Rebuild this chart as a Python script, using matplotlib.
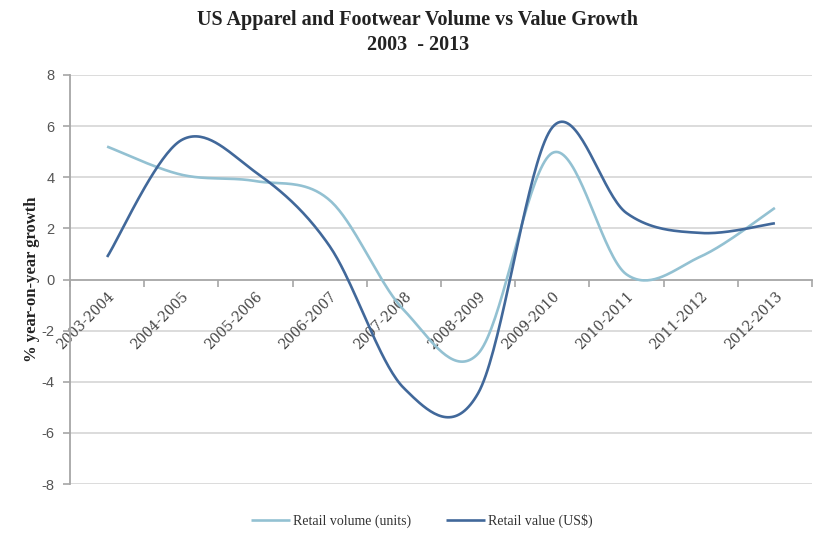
import matplotlib
matplotlib.use("Agg")
import matplotlib.pyplot as plt
import numpy as np

periods = ["2003-2004", "2004-2005", "2005-2006", "2006-2007", "2007-2008",
           "2008-2009", "2009-2010", "2010-2011", "2011-2012", "2012-2013"]
volume = [5.2, 4.1, 3.85, 3.1, -1.2, -2.9, 4.95, 0.2, 0.9, 2.8]
value = [0.88, 5.45, 4.2, 1.3, -4.25, -4.45, 5.95, 2.6, 1.82, 2.2]
yticks = [-8, -6, -4, -2, 0, 2, 4, 6, 8]

vol_color = "#93c1d2"
val_color = "#41689a"
grid_color = "#d6d6d6"
axis_color = "#a6a6a6"


def smooth(y, n=40):
    # excel-like smoothed line: catmull-rom through the points, as cubic bezier
    y = np.asarray(y, dtype=float)
    x = np.arange(len(y), dtype=float)
    pts = np.column_stack([x, y])
    xs, ys = [], []
    t = np.linspace(0, 1, n)[:, None]
    for i in range(len(pts) - 1):
        p0 = pts[i - 1] if i > 0 else pts[i]
        p1 = pts[i]
        p2 = pts[i + 1]
        p3 = pts[i + 2] if i + 2 < len(pts) else pts[i + 1]
        c1 = p1 + (p2 - p0) / 6.0
        c2 = p2 - (p3 - p1) / 6.0
        b = ((1 - t) ** 3) * p1 + 3 * ((1 - t) ** 2) * t * c1 + 3 * (1 - t) * t ** 2 * c2 + t ** 3 * p2
        xs.extend(b[:, 0])
        ys.extend(b[:, 1])
    return np.array(xs), np.array(ys)


fig = plt.figure(figsize=(8.19, 5.41), dpi=100)
ax = fig.add_axes([70 / 819, 1 - 484 / 541, 742 / 819, 409 / 541])

ax.set_ylim(-8, 8)
ax.set_xlim(-0.5, len(periods) - 0.5)
ax.set_yticks(yticks)
ax.set_yticklabels([str(v) for v in yticks], fontsize=10.5, color="#555555",
                   family="Liberation Sans")
for v in yticks:
    if v != 0:
        ax.axhline(v, color=grid_color, lw=1.2, zorder=0)

xv, yv = smooth(volume)
ax.plot(xv, yv, color=vol_color, lw=1.9, solid_capstyle="butt", zorder=3,
        label="Retail volume (units)")
xv, yv = smooth(value)
ax.plot(xv, yv, color=val_color, lw=1.9, solid_capstyle="butt", zorder=3,
        label="Retail value (US$)")

# category axis sits on zero, ticks between categories
ax.spines["bottom"].set_position(("data", 0))
ax.spines["bottom"].set_color(axis_color)
ax.spines["bottom"].set_linewidth(1.3)
ax.spines["left"].set_color(axis_color)
ax.spines["left"].set_linewidth(1.3)
ax.spines["top"].set_visible(False)
ax.spines["right"].set_visible(False)

ax.set_xticks(np.arange(len(periods) + 1) - 0.5)
ax.set_xticklabels([])
ax.set_xticks(np.arange(len(periods)), minor=True)
ax.set_xticklabels(periods, minor=True, rotation=45, ha="right", va="top",
                   rotation_mode="anchor", fontsize=10, color="#444444",
                   family="DejaVu Serif")
ax.tick_params(axis="x", which="major", length=5, color=axis_color, width=1.2)
ax.tick_params(axis="x", which="minor", length=0, pad=7)
ax.tick_params(axis="y", length=5, color=axis_color, width=1.2, pad=6)

ax.set_ylabel("% year-on-year growth", fontsize=12, fontweight="bold",
              family="Liberation Serif", color="#222222")
ax.yaxis.set_label_coords(-30 / 742, 0.5)

fig.text(0.51, 1 - 20 / 541, "US Apparel and Footwear Volume vs Value Growth",
         ha="center", va="center", fontsize=14.5, fontweight="bold",
         family="Liberation Serif", color="#222222")
fig.text(0.51, 1 - 45 / 541, "2003  - 2013",
         ha="center", va="center", fontsize=14.5, fontweight="bold",
         family="Liberation Serif", color="#222222")

leg = fig.legend(loc="center", bbox_to_anchor=(0.515, 1 - 521 / 541), ncol=2,
                 frameon=False, handlelength=2.8, columnspacing=2.5,
                 handletextpad=0.2, prop={"family": "Liberation Serif", "size": 10})
for t in leg.get_texts():
    t.set_color("#333333")

fig.savefig("out.png", dpi=100)
